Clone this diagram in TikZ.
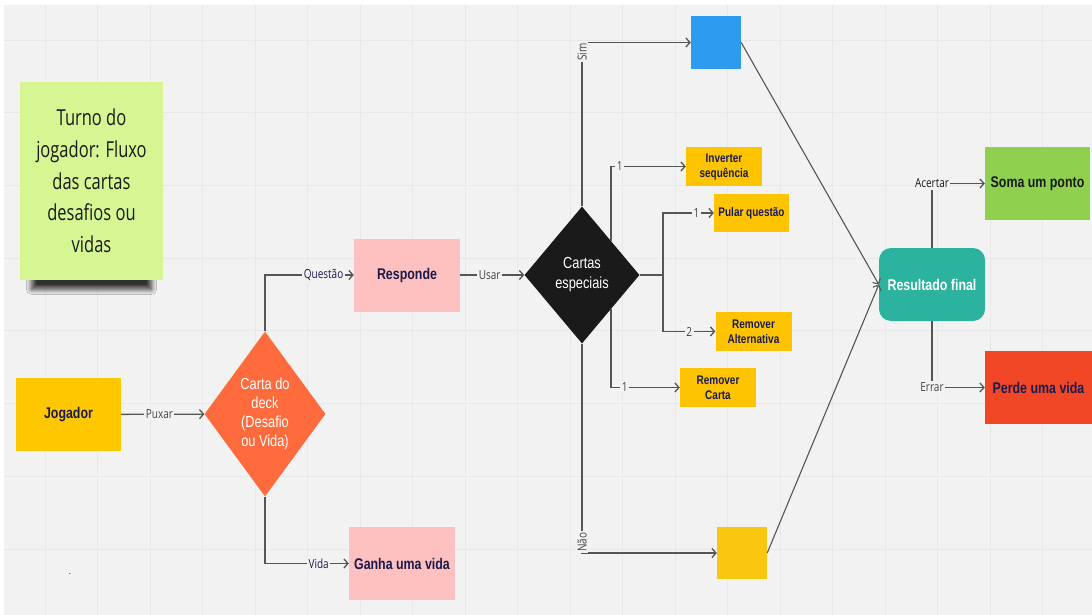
\documentclass[tikz,border=0pt]{standalone}
\usepackage{fontspec}
\setmainfont[FakeStretch=0.8]{Liberation Sans}
\newfontfamily\notefont[FakeStretch=0.75]{Open Sans}
\newfontfamily\lblfont[FakeStretch=0.8]{Open Sans}
\usepackage{xcolor}
\usepackage{tikz}
\usetikzlibrary{calc, shapes.geometric, arrows.meta, shadows.blur}

\definecolor{bggray}{HTML}{F2F2F2}
\definecolor{gridgray}{HTML}{E8E8E8}
\definecolor{linegray}{HTML}{555555}
\definecolor{labelgray}{HTML}{444444}
\definecolor{navy}{HTML}{1B1B4B}
\definecolor{darktext}{HTML}{1A1A1A}
\definecolor{notegreen}{HTML}{D6F694}
\definecolor{jogyellow}{HTML}{FFC700}
\definecolor{deckorange}{HTML}{FF6B3D}
\definecolor{softpink}{HTML}{FFC0C0}
\definecolor{nearblack}{HTML}{1A1A1A}
\definecolor{simblue}{HTML}{2D9BF0}
\definecolor{naoyellow}{HTML}{FAC710}
\definecolor{cardyellow}{HTML}{FFC400}
\definecolor{resteal}{HTML}{2BB3A0}
\definecolor{somagreen}{HTML}{8FD14F}
\definecolor{perdered}{HTML}{F24726}

\begin{document}
\begin{tikzpicture}[x=1pt, y=-1pt, >={Straight Barb[length=4pt,width=9pt]},
	box/.style={rectangle, inner sep=0pt, minimum width=106pt, minimum height=73pt, align=center, text=navy, font=\bfseries\fontsize{15.5}{18}\selectfont},
	card/.style={rectangle, fill=cardyellow, inner sep=0pt, minimum width=76pt, minimum height=39pt, align=center, text=navy, font=\bfseries\fontsize{12.5}{15}\selectfont},
	square/.style={rectangle, inner sep=0pt, minimum width=50pt, minimum height=52pt},
	flow/.style={draw=linegray, line width=1.3pt},
	lbl/.style={fill=bggray, inner sep=1.5pt, text=labelgray, font=\lblfont\fontsize{12.5}{14}\selectfont}]
	\useasboundingbox (0,0) rectangle (1092,615);
	\fill[white] (0,0) rectangle (1092,615);
	\fill[bggray] (4,5) rectangle (1092,615);
	\foreach \gx in {0,...,19}
		\draw[gridgray, line width=0.7pt] ({45+52.5*\gx},5) -- ({45+52.5*\gx},615);
	\foreach \gy in {0,...,7}
		\draw[gridgray, line width=0.7pt] (4,{40+72.7*\gy}) -- (1092,{40+72.7*\gy});

	\node (note) [rectangle, fill=notegreen, minimum width=143pt, minimum height=198pt, inner sep=0pt, align=center, text=darktext, font=\notefont\fontsize{22}{31.7}\selectfont, blur shadow={shadow xshift=0pt, shadow yshift=-30pt, shadow scale=0.84, shadow blur radius=6pt, shadow blur steps=12, shadow opacity=80}] at (91.5,181) {Turno do\\jogador: Fluxo\\das cartas\\desafios ou\\vidas};
	\node (jogador) [box, fill=jogyellow, minimum width=105pt] at (68.5,414.5) {Jogador};
	\node (deck) [diamond, fill=deckorange, minimum width=121pt, minimum height=165pt, aspect=0.73, inner sep=0pt, align=center, text=white, font=\fontsize{16}{19}\selectfont] at (265,414) {Carta do\\deck\\(Desafio\\ou Vida)};
	\node (responde) [box, fill=softpink] at (407,275) {Responde};
	\node (ganha) [box, fill=softpink] at (402,563.5) {Ganha uma vida};
	\node (especiais) [diamond, fill=nearblack, minimum width=115pt, minimum height=137pt, aspect=0.84, inner sep=0pt, align=center, text=white, font=\fontsize{16}{20}\selectfont] at (582,275) {Cartas\\especiais};
	\node (sim) [square, fill=simblue, minimum height=53pt] at (716,42.5) {};
	\node (nao) [square, fill=naoyellow] at (742,553) {};
	\node (inverter) [card] at (724,166.5) {Inverter\\sequência};
	\node (pular) [card, minimum width=75pt, minimum height=38pt] at (751.5,213) {Pular questão};
	\node (alternativa) [card] at (753.5,331.5) {Remover\\Alternativa};
	\node (removecarta) [card] at (718,387.5) {Remover\\Carta};
	\node (resultado) [box, rounded corners=12pt, fill=resteal, text=white] at (932,284.5) {Resultado final};
	\node (soma) [box, fill=somagreen, minimum width=105pt, text=darktext] at (1037.5,183.5) {Soma um ponto};
	\node (perde) [box, fill=perdered, minimum width=107pt] at (1038.5,387.5) {Perde uma vida};
	\node (ponto) [font=\fontsize{10}{12}\selectfont] at (70,574) {.};
	\coordinate (fork) at (663,275);

	\draw[flow, ->] (jogador) -- node[lbl, pos=0.46] {Puxar} (deck);
	\draw[flow, ->] (deck.north) |- node[lbl, pos=0.83, text=navy] {Questão} (responde.west);
	\draw[flow, ->] (deck.south) |- node[lbl, pos=0.82, text=navy] {Vida} (ganha.west);
	\draw[flow, ->] (responde) -- node[lbl, pos=0.46] {Usar} (especiais);
	\draw[flow, ->] (especiais.north) |- node[lbl, pos=0.47, rotate=90] {Sim} (sim.west);
	\draw[flow, ->] (especiais.south) |- node[lbl, pos=0.474, rotate=90] {Não} (nao.west);
	\draw[flow, ->] ($(especiais.north)!0.5!(especiais.east)$) |- node[lbl, pos=0.56] {1} (inverter.west);
	\draw[flow, ->] ($(especiais.south)!0.5!(especiais.east)$) |- node[lbl, pos=0.6] {1} (removecarta.west);
	\draw[flow] (especiais.east) -- (fork);
	\draw[flow, ->] (fork) |- node[lbl, pos=0.83] {1} (pular.west);
	\draw[flow, ->] (fork) |- node[lbl, pos=0.75] {2} (alternativa.west);
	\draw[flow, line width=1.1pt, ->] (sim.east) -- (resultado.west);
	\draw[flow, line width=1.1pt, ->] (nao.east) -- (resultado.west);
	\draw[flow, ->] (resultado.north) |- node[lbl, text=darktext] {Acertar} (soma.west);
	\draw[flow, ->] (resultado.south) |- node[lbl] {Errar} (perde.west);
\end{tikzpicture}
\end{document}
